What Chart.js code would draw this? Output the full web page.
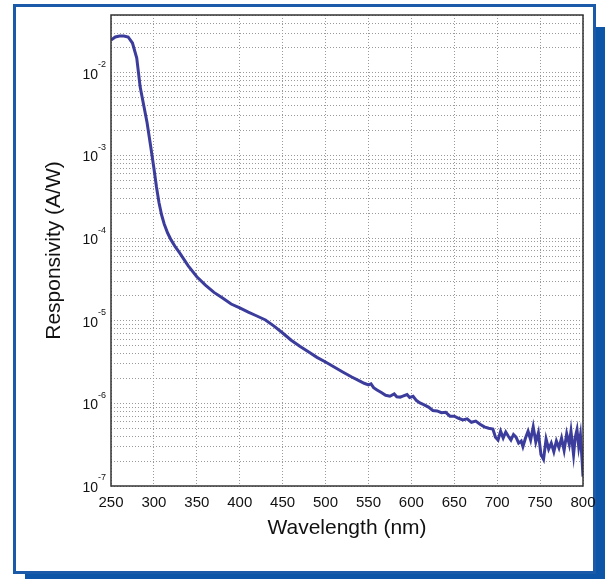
<!DOCTYPE html>
<html lang="en">
<head>
  <meta charset="UTF-8">
  <title>Responsivity vs Wavelength</title>
  <script src="https://cdn.jsdelivr.net/npm/chart.js"></script>
  <style>
    body {
      margin: 0;
      background: #fff;
      width: 605px;
      height: 579px;
      position: relative;
      overflow: hidden;
    }
    .panel {
      position: absolute;
      left: 13px;
      top: 4px;
      width: 577px;
      height: 564px;
      border: 3px solid #1a5aa8;
      background: #fff;
    }
    .bar-right {
      position: absolute;
      left: 596px;
      top: 27px;
      width: 9px;
      height: 552px;
      background: #0d55a6;
    }
    .bar-bottom {
      position: absolute;
      left: 25px;
      top: 574px;
      width: 580px;
      height: 5px;
      background: #0d55a6;
    }
    canvas {
      position: absolute;
      left: 0;
      top: 0;
    }
  </style>
</head>
<body>
  <div class="panel"></div>
  <div class="bar-right"></div>
  <div class="bar-bottom"></div>
  <canvas id="chart" width="605" height="579"></canvas>

  <script>
    // values
    const wavelengths = [
      250, 255, 260, 265, 270, 275, 280, 284, 288, 292, 296, 300, 303, 306, 309, 312, 316, 320, 325, 330,
      340, 350, 360, 370, 380, 390, 400, 410, 420, 430, 440, 450, 460, 470, 480, 490, 500, 510, 520, 530,
      540, 545, 550, 553, 556, 560, 565, 570, 575, 580, 583, 587, 590, 595, 598, 602, 606, 610, 615, 620,
      625, 630, 635, 640, 645, 650, 655, 660, 665, 670, 675, 680, 685, 690, 695, 698, 701, 704, 707, 710,
      713, 716, 719, 722, 725, 728, 730, 733, 736, 739, 742, 745, 748, 751, 754, 757, 760, 763, 766, 769,
      772, 775, 778, 781, 784, 786, 789, 791, 793, 795, 797, 799, 800
    ];
    const responsivity = [
      2.49e-2, 2.71e-2, 2.79e-2, 2.79e-2, 2.71e-2, 2.29e-2, 1.51e-2, 6.7e-3, 4.1e-3, 2.5e-3, 1.34e-3, 7.0e-4, 4.15e-4, 2.66e-4, 1.9e-4, 1.48e-4, 1.15e-4, 9.5e-5, 7.8e-5, 6.6e-5,
      4.6e-5, 3.4e-5, 2.7e-5, 2.2e-5, 1.88e-5, 1.59e-5, 1.43e-5, 1.27e-5, 1.14e-5, 1.02e-5, 8.6e-6, 7.1e-6, 5.8e-6, 4.9e-6, 4.2e-6, 3.6e-6, 3.16e-6, 2.75e-6, 2.4e-6, 2.1e-6,
      1.86e-6, 1.75e-6, 1.67e-6, 1.72e-6, 1.55e-6, 1.45e-6, 1.35e-6, 1.25e-6, 1.22e-6, 1.3e-6, 1.2e-6, 1.19e-6, 1.22e-6, 1.28e-6, 1.18e-6, 1.22e-6, 1.08e-6, 1.01e-6, 9.6e-7, 9.0e-7,
      8.2e-7, 8.1e-7, 7.7e-7, 7.8e-7, 7.0e-7, 7.0e-7, 6.6e-7, 6.3e-7, 6.5e-7, 5.9e-7, 6.1e-7, 5.6e-7, 5.2e-7, 5.0e-7, 4.9e-7, 3.9e-7, 3.6e-7, 4.6e-7, 3.8e-7, 4.5e-7,
      4.0e-7, 3.6e-7, 4.2e-7, 3.9e-7, 3.3e-7, 3.5e-7, 3.0e-7, 3.8e-7, 4.6e-7, 3.6e-7, 5.2e-7, 3.4e-7, 4.4e-7, 2.4e-7, 2.1e-7, 3.7e-7, 2.8e-7, 3.3e-7, 2.6e-7, 3.5e-7,
      2.9e-7, 3.8e-7, 2.7e-7, 4.3e-7, 3.2e-7, 4.6e-7, 2.4e-7, 3.9e-7, 4.8e-7, 3.0e-7, 4.1e-7, 2.0e-7, 1.3e-7
    ];

    // axis ticks
    const xMin = 250, xMax = 800, xStep = 50;
    const yDecades = [-7, -6, -5, -4, -3, -2];
    const yMin = 1e-7, yMax = 5e-2;

    const yGridValues = [];
    yDecades.forEach(d => {
      for (let m = 1; m <= 9; m++) {
        const v = m * Math.pow(10, d);
        if (v <= yMax * 1.0001) yGridValues.push(v);
      }
    });

    const textColor = '#111';
    const fontFamily = '"Liberation Sans", Arial, Helvetica, sans-serif';

    // "10" with a raised exponent, MATLAB style
    const yLabelPlugin = {
      id: 'yLabels',
      afterDraw(chart) {
        const ctx = chart.ctx;
        const scale = chart.scales.y;
        ctx.save();
        ctx.fillStyle = textColor;
        yDecades.forEach(d => {
          const y = scale.getPixelForValue(Math.pow(10, d));
          ctx.font = '14px ' + fontFamily;
          ctx.textAlign = 'right';
          ctx.textBaseline = 'middle';
          ctx.fillText('10', 98, y + 2);
          ctx.font = '9px ' + fontFamily;
          ctx.textAlign = 'left';
          ctx.fillText('-' + Math.abs(d), 98, y - 8);
        });
        ctx.restore();
      }
    };

    // box around the plot
    const framePlugin = {
      id: 'frame',
      afterDraw(chart) {
        const a = chart.chartArea;
        const ctx = chart.ctx;
        ctx.save();
        ctx.strokeStyle = '#333';
        ctx.lineWidth = 1.5;
        ctx.strokeRect(a.left, a.top, a.right - a.left, a.bottom - a.top);
        ctx.restore();
      }
    };

    new Chart(document.getElementById('chart'), {
      type: 'line',
      data: {
        datasets: [{
          data: wavelengths.map((w, i) => ({ x: w, y: responsivity[i] })),
          borderColor: '#3b3c9c',
          borderWidth: 3,
          pointRadius: 0,
          tension: 0,
          fill: false
        }]
      },
      options: {
        responsive: false,
        animation: false,
        devicePixelRatio: 1,
        layout: { padding: { left: 0, right: 22, top: 15, bottom: 0 } },
        plugins: {
          legend: { display: false },
          tooltip: { enabled: false }
        },
        scales: {
          x: {
            type: 'linear',
            min: xMin,
            max: xMax,
            ticks: {
              stepSize: xStep,
              color: textColor,
              padding: 8,
              maxRotation: 0,
              font: { family: fontFamily, size: 15 }
            },
            grid: { color: '#9a9a9a', lineWidth: 1, drawTicks: false },
            border: { display: false, dash: [1, 2] },
            title: {
              display: true,
              text: 'Wavelength (nm)',
              color: textColor,
              font: { family: fontFamily, size: 21 },
              padding: { top: 0, bottom: 38 }
            },
            afterFit(scale) { scale.height = 93; }
          },
          y: {
            type: 'logarithmic',
            min: yMin,
            max: yMax,
            afterBuildTicks(scale) {
              scale.ticks = yGridValues.map(v => ({ value: v }));
            },
            ticks: { display: false, autoSkip: false },
            grid: { color: '#9a9a9a', lineWidth: 1, drawTicks: false },
            border: { display: false, dash: [1, 2] },
            title: {
              display: true,
              text: 'Responsivity (A/W)',
              color: textColor,
              font: { family: fontFamily, size: 21 },
              padding: { top: 42, bottom: 0 }
            },
            afterFit(scale) { scale.width = 111; }
          }
        }
      },
      plugins: [yLabelPlugin, framePlugin]
    });
  </script>
</body>
</html>
